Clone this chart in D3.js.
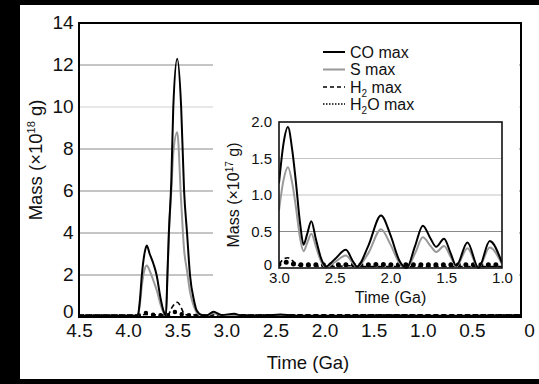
<!DOCTYPE html>
<html>
<head>
<meta charset="utf-8">
<script src="https://cdn.jsdelivr.net/npm/d3@7"></script>
<style>
  body { margin: 0; background: #000; }
  svg { display: block; font-family: "Liberation Sans", Arial, sans-serif; }
</style>
</head>
<body>
<svg id="chart" width="539" height="384"></svg>
<script>
// main panel, mass in 1e18 g
var mainTime = [4.5, 4.2, 3.92, 3.9, 3.88, 3.86, 3.83, 3.81, 3.78, 3.74, 3.71, 3.67, 3.64, 3.615, 3.6, 3.585, 3.56, 3.54, 3.5, 3.46, 3.43, 3.4, 3.37, 3.33, 3.3, 3.25, 3.2, 3.13, 3.05, 2.92, 2.85, 2.6, 2.45, 2.3, 2.0, 1.5, 1.0, 0.5, 0];
var mainCO = [0.06, 0.06, 0.06, 0.1, 0.8, 2.0, 3.1, 3.4, 3.0, 2.5, 2.0, 0.9, 0.3, 0.06, 2.0, 4.0, 6.5, 10, 12.3, 10, 6, 4, 2, 0.8, 0.3, 0.1, 0.08, 0.25, 0.1, 0.15, 0.08, 0.06, 0.12, 0.06, 0.06, 0.06, 0.06, 0.06, 0.06];
var mainS = [0.06, 0.06, 0.06, 0.1, 0.6, 1.5, 2.3, 2.45, 2.2, 1.7, 1.3, 0.6, 0.2, 0.06, 1.8, 4.0, 6.0, 7.8, 8.8, 5.5, 3.2, 2.2, 1.2, 0.5, 0.2, 0.08, 0.06, 0.18, 0.08, 0.1, 0.06, 0.05, 0.08, 0.05, 0.05, 0.05, 0.05, 0.05, 0.05];
var mainH2 = [0.1, 0.1, 0.1, 0.1, 0.1, 0.1, 0.12, 0.12, 0.12, 0.1, 0.1, 0.1, 0.1, 0.1, 0.1, 0.15, 0.4, 0.55, 0.7, 0.45, 0.15, 0.1, 0.1, 0.1, 0.1, 0.1, 0.1, 0.1, 0.1, 0.1, 0.1, 0.1, 0.1, 0.1, 0.1, 0.1, 0.1, 0.1, 0.1];
var mainH2O = [0.03, 0.03, 0.03, 0.06, 0.1, 0.12, 0.18, 0.2, 0.15, 0.1, 0.08, 0.08, 0.08, 0.08, 0.08, 0.1, 0.14, 0.2, 0.25, 0.15, 0.08, 0.08, 0.08, 0.08, 0.06, 0.03, 0.03, 0.03, 0.03, 0.03, 0.03, 0.03, 0.03, 0.03, 0.03, 0.03, 0.03, 0.03, 0.03];
var mainXTicks = [4.5, 4.0, 3.5, 3.0, 2.5, 2.0, 1.5, 1.0, 0.5, 0];
var mainYTicks = [0, 2, 4, 6, 8, 10, 12, 14];

// inset, 3.0 - 1.0 Ga, mass in 1e17 g
var insetTime = [3.0, 2.96, 2.92, 2.88, 2.85, 2.81, 2.78, 2.75, 2.71, 2.67, 2.62, 2.58, 2.5, 2.4, 2.34, 2.3, 2.2, 2.085, 2.0, 1.92, 1.855, 1.78, 1.71, 1.64, 1.59, 1.52, 1.46, 1.41, 1.31, 1.21, 1.11, 1.0];
var insetCO = [1.16, 1.7, 1.93, 1.6, 1.2, 0.6, 0.32, 0.45, 0.64, 0.4, 0.12, 0.02, 0.12, 0.25, 0.1, 0.02, 0.3, 0.72, 0.45, 0.1, 0.0, 0.3, 0.58, 0.4, 0.29, 0.4, 0.2, 0.03, 0.35, 0.0, 0.37, 0.07];
var insetS = [0.79, 1.2, 1.38, 1.15, 0.85, 0.4, 0.23, 0.33, 0.47, 0.3, 0.08, 0.01, 0.08, 0.17, 0.07, 0.01, 0.2, 0.53, 0.32, 0.07, 0.0, 0.2, 0.42, 0.3, 0.22, 0.3, 0.15, 0.02, 0.27, 0.0, 0.28, 0.05];
var insetH2 = [0.05, 0.12, 0.14, 0.1, 0.06, 0.03, 0.03, 0.03, 0.03, 0.03, 0.02, 0.02, 0.02, 0.03, 0.03, 0.02, 0.02, 0.02, 0.02, 0.02, 0.02, 0.02, 0.02, 0.02, 0.02, 0.02, 0.02, 0.02, 0.02, 0.02, 0.02, 0.02];
var insetH2O = [0.05, 0.07, 0.08, 0.06, 0.05, 0.045, 0.045, 0.045, 0.045, 0.045, 0.045, 0.045, 0.045, 0.045, 0.045, 0.045, 0.045, 0.05, 0.045, 0.045, 0.045, 0.045, 0.045, 0.045, 0.045, 0.045, 0.045, 0.045, 0.045, 0.045, 0.045, 0.045];
var insetXTicks = [3.0, 2.5, 2.0, 1.5, 1.0];
var insetYTicks = [0, 0.5, 1.0, 1.5, 2.0];

var seriesNames = ["CO max", "S max", "H2 max", "H2O max"];

var svg = d3.select("#chart");

svg.append("rect")
  .attr("x", 20).attr("y", 5)
  .attr("width", 519).attr("height", 374)
  .style("fill", "white");

// series styles
function styleLine(sel, i, inset) {
  if (i === 0) sel.style("stroke", "#000").style("stroke-width", 2);
  if (i === 1) sel.style("stroke", "#999").style("stroke-width", 2);
  if (i === 2) sel.style("stroke", "#000").style("stroke-width", 1.6).style("stroke-dasharray", "5,3");
  if (i === 3) {
    sel.style("stroke", "#000").style("stroke-width", inset ? 5 : 4.5)
      .style("stroke-linecap", "round").style("stroke-dasharray", "0,7.5");
  }
  return sel.style("fill", "none");
}

// ---- main plot
var x = d3.scaleLinear().domain([4.5, 0]).range([79, 521]);
var y = d3.scaleLinear().domain([0, 14]).range([317, 23]);

var g = svg.append("g");

g.selectAll("line.grid")
  .data(mainYTicks.filter(d => d > 0 && d < 14))
  .enter().append("line")
  .attr("class", "grid")
  .attr("x1", x(4.5)).attr("x2", x(0))
  .attr("y1", d => y(d)).attr("y2", d => y(d))
  .style("stroke", d => (d === 10 ? "#cfcfcf" : "#8a8a8a"))
  .style("stroke-width", 1);

svg.append("clipPath").attr("id", "mainclip")
  .append("rect").attr("x", 79).attr("y", 23).attr("width", 442).attr("height", 294);

var mainLine = d3.line()
  .x((d, i) => x(mainTime[i]))
  .y(d => y(d))
  .curve(d3.curveMonotoneX);

var mainSeries = [mainCO, mainS, mainH2, mainH2O];
[3, 2, 1, 0].forEach(function (i) {
  var p = g.append("path")
    .attr("d", mainLine(mainSeries[i]))
    .attr("clip-path", "url(#mainclip)");
  styleLine(p, i, false);
});

var xAxis = g.append("g")
  .attr("transform", "translate(0," + y(0) + ")")
  .call(d3.axisBottom(x).tickValues(mainXTicks).tickSize(0).tickPadding(7)
    .tickFormat(d => (d === 0 ? "0" : d3.format(".1f")(d))));
xAxis.select(".domain").remove();
xAxis.selectAll("text").style("font-size", "18px").style("fill", "#111")
  .style("font-family", "Liberation Sans, Arial, sans-serif")
  .attr("transform", d => (d === 0 ? "translate(8,0) scale(1.06,1)" : "scale(1.06,1)"));

var yAxis = g.append("g")
  .attr("transform", "translate(" + x(4.5) + ",0)")
  .call(d3.axisLeft(y).tickValues(mainYTicks).tickSize(0).tickPadding(5));
yAxis.select(".domain").remove();
yAxis.selectAll("text").style("font-size", "18px").style("fill", "#111")
  .style("font-family", "Liberation Sans, Arial, sans-serif")
  .attr("transform", d => (d === 0 ? "translate(0,-5) scale(1.06,1)" : "scale(1.06,1)"));

// ---- inset
var ix = d3.scaleLinear().domain([3.0, 1.0]).range([279, 502]);
var iy = d3.scaleLinear().domain([0, 2.0]).range([268, 122]);

var ig = svg.append("g");
ig.append("rect")
  .attr("x", 213).attr("y", 30).attr("width", 306).attr("height", 270)
  .style("fill", "white");

ig.selectAll("line.igrid")
  .data(insetYTicks.filter(d => d > 0 && d < 2))
  .enter().append("line")
  .attr("x1", ix(3)).attr("x2", ix(1))
  .attr("y1", d => iy(d)).attr("y2", d => iy(d))
  .style("stroke", d => (d === 0.5 ? "#8a8a8a" : "#c4c4c4"))
  .style("stroke-width", 1);

svg.append("clipPath").attr("id", "insetclip")
  .append("rect").attr("x", 279).attr("y", 122).attr("width", 223).attr("height", 149);

var insetLine = d3.line()
  .x((d, i) => ix(insetTime[i]))
  .y(d => iy(d))
  .curve(d3.curveMonotoneX);

var insetSeries = [insetCO, insetS, insetH2, insetH2O];
[3, 2, 1, 0].forEach(function (i) {
  var p = ig.append("path")
    .attr("d", insetLine(insetSeries[i]))
    .attr("clip-path", "url(#insetclip)");
  styleLine(p, i, true);
});

ig.append("rect")
  .attr("x", ix(3)).attr("y", iy(2))
  .attr("width", ix(1) - ix(3)).attr("height", iy(0) - iy(2))
  .style("fill", "none").style("stroke", "#111").style("stroke-width", 1.6);

var ixAxis = ig.append("g")
  .attr("transform", "translate(0," + iy(0) + ")")
  .call(d3.axisBottom(ix).tickValues(insetXTicks).tickSize(0).tickPadding(4)
    .tickFormat(d3.format(".1f")));
ixAxis.select(".domain").remove();
ixAxis.selectAll("text").style("font-size", "15px").style("fill", "#111")
  .style("font-family", "Liberation Sans, Arial, sans-serif");

var iyAxis = ig.append("g")
  .attr("transform", "translate(" + ix(3) + ",0)")
  .call(d3.axisLeft(iy).tickValues(insetYTicks).tickSize(0).tickPadding(7)
    .tickFormat(d => (d === 0 ? "0" : d3.format(".1f")(d))));
iyAxis.select(".domain").remove();
iyAxis.selectAll("text").style("font-size", "15px").style("fill", "#111")
  .style("font-family", "Liberation Sans, Arial, sans-serif")
  .attr("transform", d => (d === 0 ? "translate(0,-3)" : null));

ig.append("text")
  .attr("x", (ix(3) + ix(1)) / 2).attr("y", 303)
  .attr("text-anchor", "middle")
  .style("font-size", "16px").style("fill", "#111")
  .text("Time (Ga)");

var iyl = ig.append("text")
  .attr("transform", "translate(239," + (iy(0) + iy(2)) / 2 + ") rotate(-90)")
  .attr("text-anchor", "middle")
  .style("font-size", "16px").style("fill", "#111");
iyl.append("tspan").text("Mass (×10");
iyl.append("tspan").attr("dy", -6).style("font-size", "10px").text("17");
iyl.append("tspan").attr("dy", 6).text(" g)");

// main frame drawn on top
g.append("path")
  .attr("d", "M" + x(4.5) + "," + y(14) + "V" + y(0) + "H" + x(0) + "V" + y(14) + "Z")
  .style("fill", "none").style("stroke", "#000").style("stroke-width", 2);

// main axis titles
svg.append("text")
  .attr("x", 308).attr("y", 369)
  .attr("text-anchor", "middle")
  .style("font-size", "18.5px").style("fill", "#111")
  .text("Time (Ga)");

var yl = svg.append("text")
  .attr("transform", "translate(42,160) rotate(-90)")
  .attr("text-anchor", "middle")
  .style("font-size", "18.5px").style("fill", "#111");
yl.append("tspan").text("Mass (×10");
yl.append("tspan").attr("dy", -7).style("font-size", "11px").text("18");
yl.append("tspan").attr("dy", 7).text(" g)");

// legend
var legend = svg.append("g");
var rowY = [52, 69.5, 87, 104];
seriesNames.forEach(function (name, i) {
  var ln = legend.append("line")
    .attr("x1", 323).attr("x2", 345)
    .attr("y1", rowY[i]).attr("y2", rowY[i]);
  styleLine(ln, i, false);
  if (i === 2) ln.style("stroke-dasharray", "4,3");
  if (i === 3) ln.style("stroke-width", 1.5).style("stroke-linecap", "butt").style("stroke-dasharray", "1.5,1.5");
  var t = legend.append("text")
    .attr("x", 350).attr("y", rowY[i]).attr("dy", "0.35em")
    .style("font-size", "16px").style("fill", "#111");
  if (name.indexOf("H2") === 0) {
    t.append("tspan").text("H");
    t.append("tspan").attr("dy", 4).style("font-size", "10px").text("2");
    t.append("tspan").attr("dy", -4).text(name.slice(2));
  } else {
    t.text(name);
  }
});
</script>
</body>
</html>
